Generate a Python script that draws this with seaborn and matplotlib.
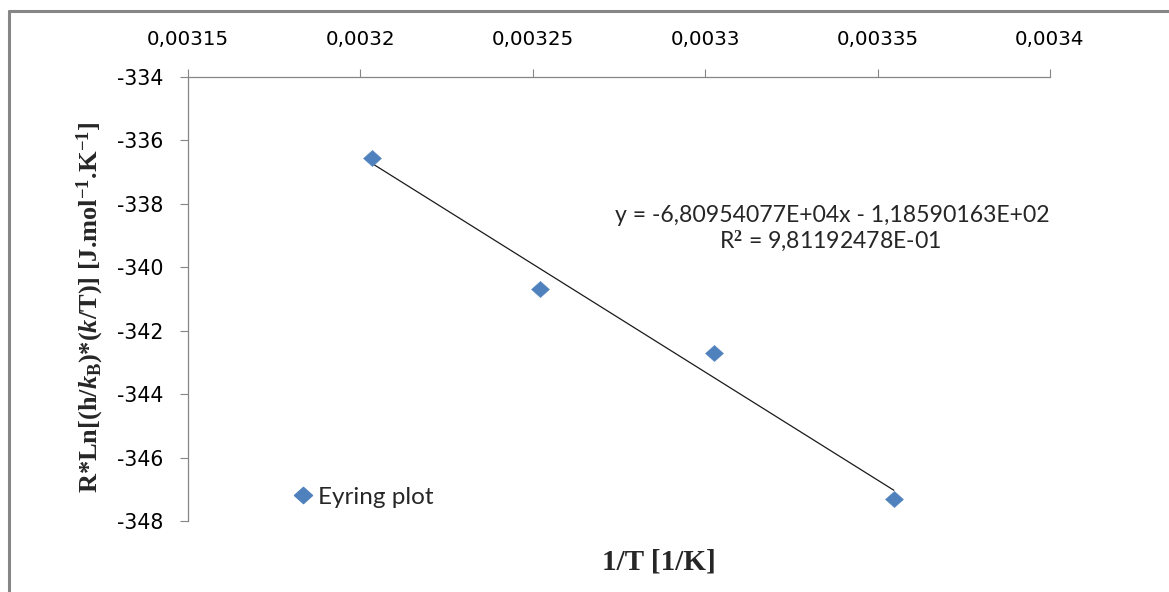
import numpy as np
import pandas as pd
import matplotlib
matplotlib.use("Agg")
import matplotlib.pyplot as plt
from matplotlib.lines import Line2D
from matplotlib.path import Path
import seaborn as sns

# ---- data ----
inv_T = [0.0032033, 0.0032521, 0.0033026, 0.0033547]
eyring = [-336.54, -340.69, -342.70, -347.32]
slope = -6.80954077e4
intercept = -1.18590163e2
r2 = 9.81192478e-1
x_ticks = [0.00315, 0.0032, 0.00325, 0.0033, 0.00335, 0.0034]
x_tick_labels = ["0,00315", "0,0032", "0,00325", "0,0033", "0,00335", "0,0034"]
y_ticks = [-334, -336, -338, -340, -342, -344, -346, -348]
y_tick_labels = ["-334", "-336", "-338", "-340", "-342", "-344", "-346", "-348"]
series_name = "Eyring plot"
eq_line1 = "y = -6,80954077E+04x - 1,18590163E+02"
eq_line2 = "R$^2$ = 9,81192478E-01"

df = pd.DataFrame({"x": inv_T, "y": eyring})
trend_x = [min(inv_T), max(inv_T)]
trend = pd.DataFrame({"x": trend_x, "y": [slope * v + intercept for v in trend_x]})

sns.set_style("white")
plt.rcParams["font.family"] = ["DejaVu Sans"]
plt.rcParams["mathtext.fontset"] = "custom"
plt.rcParams["mathtext.rm"] = "Liberation Serif:bold"
plt.rcParams["mathtext.it"] = "Liberation Serif:italic:bold"
plt.rcParams["mathtext.bf"] = "Liberation Serif:bold"

W, H = 1169, 592
fig = plt.figure(figsize=(W / 100, H / 100), dpi=100)
fig.patch.set_facecolor("white")
ax = fig.add_axes([188 / W, 1 - 521 / H, (1050 - 188) / W, (521 - 77) / H])

diamond = Path([(-1, 0), (0, 0.9), (1, 0), (0, -0.9), (-1, 0)],
               [Path.MOVETO, Path.LINETO, Path.LINETO, Path.LINETO, Path.CLOSEPOLY])
blue = "#4F81BD"

sns.lineplot(data=trend, x="x", y="y", ax=ax, color="#1a1a1a", lw=0.9, legend=False)
sns.scatterplot(data=df, x="x", y="y", ax=ax, marker=diamond, s=13 ** 2,
                color=blue, edgecolor=blue, linewidth=0.3, zorder=5, legend=False)

ax.set_xlim(0.00315, 0.0034)
ax.set_ylim(-348, -334)
ax.set_xticks(x_ticks)
ax.set_xticklabels(x_tick_labels)
ax.set_yticks(y_ticks)
ax.set_yticklabels(y_tick_labels)
ax.xaxis.tick_top()
ax.tick_params(axis="x", which="both", top=True, bottom=False, direction="out",
               length=6, width=0.8, color="#868686", pad=14, labelsize=14.3,
               labelcolor="black")
ax.tick_params(axis="y", which="both", left=True, right=False, direction="out",
               length=6, width=0.8, color="#868686", pad=12, labelsize=14.8,
               labelcolor="black")
for side in ["right", "bottom"]:
    ax.spines[side].set_visible(False)
for side in ["left", "top"]:
    ax.spines[side].set_color("#868686")
    ax.spines[side].set_linewidth(0.9)
ax.set_xlabel("")
ax.set_ylabel("")
ax.grid(False)

# legend
handle = Line2D([], [], marker=diamond, markersize=13, color=blue, lw=0)
fig.legend([handle], [series_name], loc="center left",
           bbox_to_anchor=(294 / W, 1 - 497 / H), frameon=False,
           handlelength=0.75, handletextpad=0.25, borderpad=0, borderaxespad=0,
           prop={"family": "Lato", "size": 17.5})

# trendline equation
fig.text(832 / W, 1 - 216 / H, eq_line1, ha="center", va="center",
         family="Lato", fontsize=16.6)
fig.text(830 / W, 1 - 241 / H, eq_line2, ha="center", va="center",
         family="Lato", fontsize=16.6)

# axis titles
fig.text(90 / W, 1 - 307 / H,
         r"R*Ln[(h/$k_{\mathrm{B}}$)*($k$/T)] [J.mol$^{\mathrm{-1}}$.K$^{\mathrm{-1}}$]",
         rotation=90, ha="center", va="center", family="Liberation Serif",
         fontweight="bold", fontsize=19)
fig.text(659 / W, 1 - 562 / H, "1/T [1/K]", ha="center", va="center",
         family="Liberation Serif", fontweight="bold", fontsize=21)

# outer chart frame (top and left edges visible)
fig.add_artist(Line2D([8.5 / W, 1.0], [1 - 11 / H, 1 - 11 / H],
                      transform=fig.transFigure, color="#868686", lw=2.2))
fig.add_artist(Line2D([8.5 / W, 8.5 / W], [0.0, 1 - 11 / H],
                      transform=fig.transFigure, color="#868686", lw=2.2))

fig.savefig("out.png", dpi=100, facecolor="white")
